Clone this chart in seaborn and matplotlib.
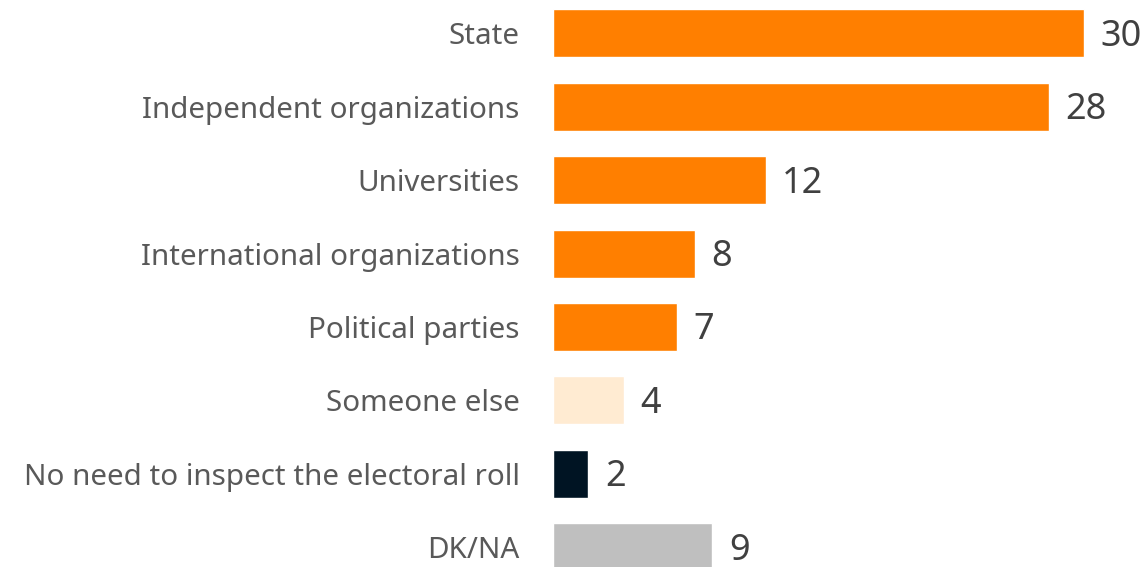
import matplotlib
matplotlib.use("Agg")
import matplotlib.pyplot as plt
import seaborn as sns
import pandas as pd

categories = [
    "State",
    "Independent organizations",
    "Universities",
    "International organizations",
    "Political parties",
    "Someone else",
    "No need to inspect the electoral roll",
    "DK/NA",
]
values = [30, 28, 12, 8, 7, 4, 2, 9]
colors = ["#FF7F00", "#FF7F00", "#FF7F00", "#FF7F00", "#FF7F00",
          "#FFEBD2", "#001423", "#BFBFBF"]

df = pd.DataFrame({"category": categories, "value": values})

sns.set_theme(style="white")
plt.rcParams["font.family"] = ["Noto Sans", "DejaVu Sans"]

fig = plt.figure(figsize=(11.48, 5.67), dpi=100)
ax = fig.add_axes([553 / 1148, 0.0, 1 - 553 / 1148, 1.0])

sns.barplot(data=df, x="value", y="category", hue="category",
            palette=colors, orient="h", width=0.654, legend=False,
            saturation=1, ax=ax)

for container, v in zip(ax.containers, values):
    texts = ax.bar_label(container, labels=[f"{v}"], padding=12,
                         fontsize=26, color="#404040")
    for t in texts:
        t.xyann = (12, -2.5)

ax.set_xlim(0, 33.6)
ax.set_ylim(7.27, -0.456)
ax.set_xlabel("")
ax.set_ylabel("")
ax.set_xticks([])
ax.tick_params(axis="y", length=0, pad=24, labelsize=21.3, labelcolor="#595959")
for s in ax.spines.values():
    s.set_visible(False)

fig.savefig("out.png", dpi=100)
